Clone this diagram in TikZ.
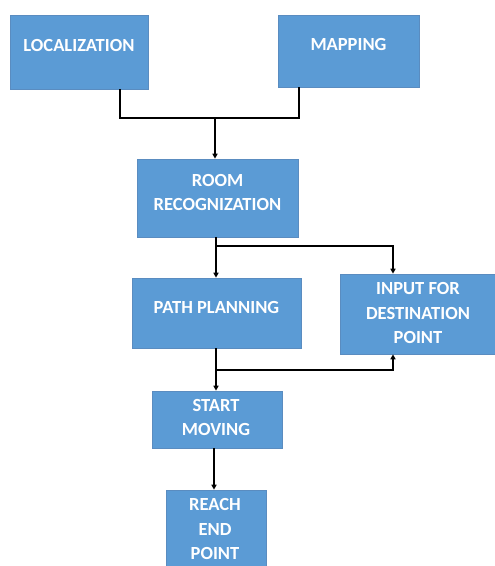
\documentclass[tikz,border=0pt]{standalone}
\usepackage{fontspec}
\setmainfont{Carlito}
\usetikzlibrary{arrows.meta}
\definecolor{boxblue}{HTML}{5B9BD5}
\definecolor{boxedge}{HTML}{5A8CC0}
\tikzset{
  box/.style={draw=boxedge, line width=0.6pt, fill=boxblue, rectangle, inner sep=0pt},
  txt/.style={text=white, font=\fontsize{18.5}{24.5}\selectfont\bfseries, align=center, inner sep=0pt},
  link/.style={draw=black, line width=1.8pt},
  arrow/.style={link, -{Triangle[length=5pt,width=5pt]}}
}
\begin{document}
\begin{tikzpicture}[x=1pt,y=-1pt]
\useasboundingbox (0,0) rectangle (495,566);
% boxes
\node[box, minimum width=138pt, minimum height=74pt] (loc) at (79,52) {};
\node[txt] (loct) at (79,45) {LOCALIZATION};
\node[box, minimum width=141pt, minimum height=72pt] (map) at (348.5,51) {};
\node[txt] (mapt) at (348.5,44) {MAPPING};
\node[box, minimum width=161pt, minimum height=78pt] (room) at (217.5,198) {};
\node[txt] (roomt) at (217.5,192.5) {ROOM\\RECOGNIZATION};
\node[box, minimum width=169pt, minimum height=70pt] (path) at (216.5,313) {};
\node[txt] (patht) at (216.5,307) {PATH PLANNING};
\node[box, minimum width=164pt, minimum height=80pt] (input) at (422,314) {};
\node[txt] (inputt) at (418,313) {INPUT FOR\\DESTINATION\\POINT};
\node[box, minimum width=130pt, minimum height=57pt] (start) at (217,419.5) {};
\node[txt] (startt) at (216,417.5) {START\\MOVING};
\node[box, minimum width=100pt, minimum height=86pt] (reach) at (216,533) {};
\node[txt] (reacht) at (215,529) {REACH\\END\\POINT};
% junctions
\coordinate (jA) at (215,118);
\coordinate (jB) at (216,246);
\coordinate (jC) at (216,370);
% connectors
\draw[link] ([xshift=41pt]loc.south) |- (jA) -| ([xshift=-49.5pt]map.south);
\draw[arrow] (jA) -- (room.north -| jA);
\draw[link] (room.south -| jB) -- (jB);
\draw[arrow] (jB) -- (path.north -| jB);
\draw[arrow] (jB) -| ([xshift=-29pt]input.north);
\draw[link] (path.south -| jC) -- (jC);
\draw[arrow] (jC) -- (start.north -| jC);
\draw[arrow] (jC) -| ([xshift=-29pt]input.south);
\draw[arrow] ([xshift=-3pt]start.south) -- ([xshift=-2pt]reach.north);
\end{tikzpicture}
\end{document}
